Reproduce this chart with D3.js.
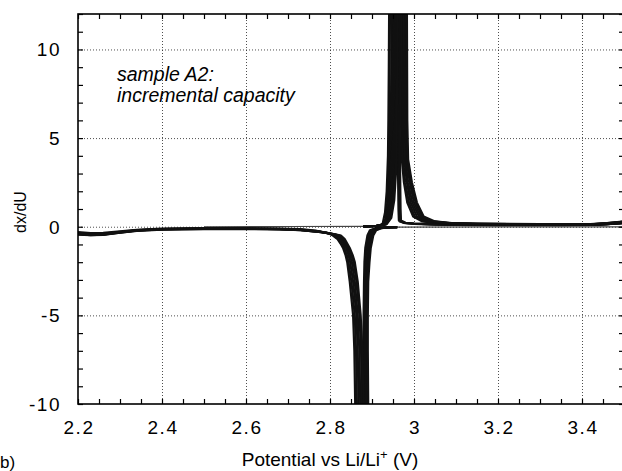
<!DOCTYPE html>
<html>
<head>
<meta charset="utf-8">
<script src="https://cdn.jsdelivr.net/npm/d3@7"></script>
<style>
    body { margin: 0; background: #fff; }
    svg { display: block; font-family: "Liberation Sans", Arial, sans-serif; }
</style>
</head>
<body>
<div id="icPlot"></div>
<script>
//Axis tick values
const xLabelTicks = [2.2, 2.4, 2.6, 2.8, 3.0, 3.2, 3.4];
const yLabelTicks = [-10, -5, 0, 5, 10];

//Flat parts near zero that only one cycle shows [potential (V), dx/dU]
const chargeBase = [[2.50,0.0],[2.70,0.01],[2.88,0.02]];
const dischargeBase = [[2.96,-0.02],[3.2,-0.01],[3.5,-0.01]];

//Discharge cycles [potential (V), dx/dU]
const discharge1 = [[2.20,-0.30],[2.23,-0.36],[2.26,-0.35],[2.30,-0.26],[2.34,-0.17],[2.40,-0.11],[2.50,-0.08],[2.60,-0.08],[2.68,-0.10],[2.73,-0.14],[2.765,-0.22],[2.795,-0.36],[2.807,-0.5],[2.818,-0.7],[2.825,-0.95],[2.831,-1.2],[2.837,-1.6],[2.841,-2],[2.847,-3.1],[2.855,-5],[2.858,-7],[2.860,-10],[2.862,-13],[2.870,-13],[2.876,-10],[2.879,-7],[2.880,-5],[2.881,-3.1],[2.882,-2],[2.884,-1.2],[2.889,-0.5],[2.895,-0.2],[2.91,-0.08],[2.93,-0.04],[2.96,-0.02]];
const discharge2 = [[2.20,-0.34],[2.23,-0.40],[2.26,-0.39],[2.30,-0.29],[2.34,-0.19],[2.40,-0.13],[2.50,-0.10],[2.60,-0.10],[2.68,-0.12],[2.73,-0.16],[2.77,-0.25],[2.80,-0.39],[2.811,-0.5],[2.821,-0.7],[2.828,-0.95],[2.834,-1.2],[2.840,-1.6],[2.844,-2],[2.851,-3.1],[2.859,-5],[2.862,-7],[2.864,-10],[2.866,-13],[2.874,-13],[2.879,-10],[2.881,-7],[2.882,-5],[2.883,-3.1],[2.885,-2],[2.887,-1.2],[2.892,-0.5],[2.898,-0.2],[2.912,-0.08],[2.93,-0.04],[2.96,-0.02]];
const discharge3 = [[2.20,-0.38],[2.23,-0.44],[2.26,-0.43],[2.30,-0.32],[2.34,-0.21],[2.40,-0.14],[2.50,-0.11],[2.60,-0.11],[2.68,-0.13],[2.73,-0.18],[2.775,-0.28],[2.805,-0.41],[2.815,-0.5],[2.825,-0.7],[2.832,-0.95],[2.838,-1.2],[2.844,-1.6],[2.848,-2],[2.855,-3.1],[2.863,-5],[2.866,-7],[2.868,-10],[2.870,-13],[2.878,-13],[2.882,-10],[2.883,-7],[2.884,-5],[2.885,-3.1],[2.887,-2],[2.890,-1.2],[2.895,-0.5],[2.901,-0.2],[2.915,-0.08],[2.935,-0.04],[2.96,-0.02]];
const discharge4 = [[2.20,-0.42],[2.23,-0.48],[2.26,-0.46],[2.30,-0.34],[2.34,-0.23],[2.40,-0.16],[2.50,-0.13],[2.60,-0.13],[2.68,-0.15],[2.73,-0.2],[2.78,-0.3],[2.81,-0.43],[2.819,-0.5],[2.829,-0.7],[2.835,-0.95],[2.841,-1.2],[2.847,-1.6],[2.852,-2],[2.859,-3.1],[2.866,-5],[2.870,-7],[2.872,-10],[2.874,-13],[2.882,-13],[2.885,-10],[2.885,-7],[2.886,-5],[2.887,-3.1],[2.890,-2],[2.893,-1.2],[2.898,-0.5],[2.904,-0.2],[2.918,-0.08],[2.935,-0.04],[2.96,-0.02]];
const discharge5 = [[2.20,-0.44],[2.23,-0.47],[2.26,-0.45],[2.30,-0.33],[2.34,-0.22],[2.40,-0.15],[2.50,-0.12],[2.60,-0.12],[2.68,-0.14],[2.73,-0.19],[2.785,-0.32],[2.815,-0.45],[2.823,-0.5],[2.832,-0.7],[2.838,-0.95],[2.844,-1.2],[2.851,-1.6],[2.856,-2],[2.863,-3.1],[2.870,-5],[2.874,-7],[2.876,-10],[2.878,-13],[2.886,-13],[2.888,-10],[2.887,-7],[2.888,-5],[2.889,-3.1],[2.892,-2],[2.895,-1.2],[2.901,-0.5],[2.907,-0.2],[2.92,-0.08],[2.94,-0.04],[2.96,-0.02]];
const discharge6 = [[2.20,-0.40],[2.23,-0.45],[2.26,-0.43],[2.30,-0.31],[2.34,-0.21],[2.40,-0.14],[2.50,-0.11],[2.60,-0.11],[2.68,-0.13],[2.73,-0.18],[2.79,-0.33],[2.818,-0.46],[2.826,-0.5],[2.835,-0.7],[2.841,-0.95],[2.847,-1.2],[2.854,-1.6],[2.859,-2],[2.866,-3.1],[2.873,-5],[2.877,-7],[2.880,-10],[2.882,-13],[2.890,-13],[2.891,-10],[2.890,-7],[2.890,-5],[2.891,-3.1],[2.894,-2],[2.897,-1.2],[2.903,-0.5],[2.910,-0.2],[2.922,-0.08],[2.94,-0.04],[2.96,-0.02]];

//Charge cycles [potential (V), dx/dU]
const charge1 = [[2.88,0.02],[2.91,0.04],[2.925,0.12],[2.931,0.8],[2.935,2],[2.938,4],[2.939,6],[2.940,9],[2.941,13],[2.959,13],[2.960,9],[2.961,6],[2.962,3],[2.963,1],[2.964,0.35],[2.975,0.22],[3.0,0.16],[3.05,0.12],[3.1,0.1],[3.2,0.09],[3.35,0.09],[3.42,0.1],[3.46,0.14],[3.5,0.2]];
const charge2 = [[2.88,0.02],[2.91,0.04],[2.927,0.12],[2.933,0.5],[2.937,1.5],[2.940,3],[2.941,6],[2.942,9],[2.943,13],[2.962,13],[2.963,9],[2.963,6],[2.964,3],[2.965,1],[2.966,0.3],[2.978,0.22],[3.0,0.17],[3.05,0.13],[3.1,0.11],[3.2,0.1],[3.35,0.1],[3.42,0.1],[3.46,0.15],[3.5,0.21]];
const charge3 = [[2.88,0.02],[2.91,0.04],[2.928,0.15],[2.935,0.5],[2.939,1.5],[2.943,3],[2.945,6],[2.946,9],[2.947,13],[2.965,13],[2.966,6],[2.967,3],[2.968,1],[2.969,0.35],[2.98,0.22],[3.0,0.17],[3.05,0.13],[3.1,0.11],[3.2,0.1],[3.35,0.1],[3.42,0.11],[3.46,0.15],[3.5,0.22]];
const charge4 = [[2.88,0.02],[2.91,0.04],[2.929,0.15],[2.936,0.5],[2.941,1.5],[2.945,3],[2.947,6],[2.948,9],[2.949,13],[2.968,13],[2.969,6],[2.971,3.8],[2.976,2.5],[2.984,1.36],[2.998,0.58],[3.02,0.3],[3.06,0.2],[3.12,0.14],[3.3,0.1],[3.42,0.1],[3.46,0.15],[3.5,0.22]];
const charge5 = [[2.88,0.02],[2.91,0.04],[2.930,0.15],[2.937,0.5],[2.943,1.5],[2.947,3],[2.949,6],[2.950,9],[2.951,13],[2.971,13],[2.972,6],[2.974,3.8],[2.979,2.5],[2.988,1.36],[3.002,0.58],[3.025,0.3],[3.065,0.2],[3.13,0.14],[3.3,0.11],[3.42,0.11],[3.46,0.16],[3.5,0.23]];
const charge6 = [[2.88,0.02],[2.91,0.04],[2.931,0.15],[2.938,0.5],[2.945,1.5],[2.949,3],[2.951,6],[2.952,9],[2.953,13],[2.974,13],[2.975,6],[2.977,3.8],[2.983,2.5],[2.992,1.36],[3.007,0.58],[3.03,0.3],[3.07,0.2],[3.14,0.15],[3.3,0.12],[3.42,0.12],[3.46,0.17],[3.5,0.25]];
const charge7 = [[2.88,0.02],[2.91,0.04],[2.932,0.15],[2.940,0.5],[2.947,1.5],[2.951,3],[2.953,6],[2.954,9],[2.955,13],[2.976,13],[2.977,6],[2.979,3.8],[2.986,2.5],[2.996,1.36],[3.012,0.58],[3.035,0.3],[3.075,0.2],[3.14,0.15],[3.3,0.13],[3.42,0.13],[3.46,0.18],[3.5,0.26]];
const charge8 = [[2.88,0.02],[2.91,0.04],[2.933,0.15],[2.942,0.5],[2.949,1.5],[2.953,3],[2.955,6],[2.956,9],[2.957,13],[2.979,13],[2.980,6],[2.982,3.8],[2.990,2.5],[3.000,1.36],[3.016,0.58],[3.04,0.3],[3.08,0.2],[3.15,0.16],[3.3,0.13],[3.42,0.13],[3.46,0.19],[3.5,0.28]];
const charge9 = [[2.88,0.02],[2.91,0.04],[2.934,0.15],[2.944,0.5],[2.951,1.5],[2.955,3],[2.957,6],[2.958,9],[2.959,13],[2.981,13],[2.982,6],[2.984,3.8],[2.993,2.5],[3.004,1.36],[3.020,0.58],[3.045,0.3],[3.085,0.2],[3.15,0.16],[3.3,0.14],[3.42,0.14],[3.46,0.2],[3.5,0.29]];
const charge10 = [[2.88,0.02],[2.91,0.04],[2.935,0.15],[2.946,0.5],[2.953,1.5],[2.957,3],[2.959,6],[2.960,9],[2.961,13],[2.983,13],[2.984,6],[2.986,3.8],[2.995,2.5],[3.007,1.36],[3.023,0.58],[3.05,0.3],[3.09,0.2],[3.16,0.17],[3.3,0.15],[3.42,0.15],[3.46,0.21],[3.5,0.3]];

class IncrementalCapacityPlot
{
    constructor()
    {
        //Selecting the div using d3
        this.plotDiv = d3.select("#icPlot");

        //Margins round the plot box
        this.dimensions = {top: 14, bottom: 67, right: -2, left: 78};

        this.fullWidth = 622;
        this.fullHeight = 471;
        this.width = this.fullWidth - this.dimensions.left - this.dimensions.right;
        this.height = this.fullHeight - this.dimensions.top - this.dimensions.bottom;

        this.svg = this.plotDiv.append("svg")
            .attr("width", this.fullWidth)
            .attr("height", this.fullHeight);
    }

    plot(cycles, baseLines)
    {
        let xScale = d3.scaleLinear()
            .domain([2.2, 3.5])
            .range([0, this.width]);

        let yScale = d3.scaleLinear()
            .domain([-10, 12])
            .range([this.height, 0]);

        let g = this.svg.append("g")
            .attr("transform", "translate(" + this.dimensions.left + "," + this.dimensions.top + ")");

        //Clip so the peaks stop at the frame
        g.append("clipPath").attr("id", "plotClip")
            .append("rect")
            .attr("width", this.width)
            .attr("height", this.height);

        //Dotted grid lines
        g.append("g")
            .call(d3.axisBottom(xScale).tickValues(xLabelTicks.slice(1)).tickSize(this.height).tickFormat(""))
            .call(a => a.select(".domain").remove())
            .selectAll("line")
            .attr("stroke", "#222")
            .attr("stroke-width", 0.8)
            .attr("stroke-dasharray", "1,2");

        g.append("g")
            .call(d3.axisLeft(yScale).tickValues(yLabelTicks.slice(1)).tickSize(-this.width).tickFormat(""))
            .call(a => a.select(".domain").remove())
            .selectAll("line")
            .attr("stroke", "#222")
            .attr("stroke-width", 0.8)
            .attr("stroke-dasharray", "1,2");

        //Cycle curves
        let line = d3.line()
            .x(d => xScale(d[0]))
            .y(d => yScale(d[1]));

        let curves = g.append("g").attr("clip-path", "url(#plotClip)");

        curves.selectAll("path.base")
            .data(baseLines)
            .enter().append("path")
            .attr("class", "base")
            .attr("d", line)
            .attr("fill", "none")
            .attr("stroke", "#444")
            .attr("stroke-width", 1.1);

        curves.selectAll("path.cycle")
            .data(cycles)
            .enter().append("path")
            .attr("class", "cycle")
            .attr("d", line)
            .attr("fill", "none")
            .attr("stroke", "#111")
            .attr("stroke-width", 2.2)
            .attr("stroke-linejoin", "round");

        //Inward minor ticks on all four sides
        let xMinor = d3.range(2.2, 3.5001, 0.05);
        let yMinor = d3.range(-10, 12.001, 1);

        g.append("g")
            .attr("transform", "translate(0," + this.height + ")")
            .call(d3.axisBottom(xScale).tickValues(xMinor).tickSize(-5).tickFormat(""))
            .call(a => a.select(".domain").remove());
        g.append("g")
            .call(d3.axisTop(xScale).tickValues(xMinor).tickSize(-5).tickFormat(""))
            .call(a => a.select(".domain").remove());
        g.append("g")
            .call(d3.axisLeft(yScale).tickValues(yMinor).tickSize(-5).tickFormat(""))
            .call(a => a.select(".domain").remove());
        g.append("g")
            .attr("transform", "translate(" + this.width + ",0)")
            .call(d3.axisRight(yScale).tickValues(yMinor).tickSize(-5).tickFormat(""))
            .call(a => a.select(".domain").remove());

        g.selectAll(".tick line").filter(function () { return !this.getAttribute("stroke-dasharray"); })
            .attr("stroke", "#000")
            .attr("stroke-width", 1.2);

        //Frame
        g.append("rect")
            .attr("width", this.width)
            .attr("height", this.height)
            .attr("fill", "none")
            .attr("stroke", "#000")
            .attr("stroke-width", 1.6);

        //Tick labels
        g.append("g")
            .selectAll("text")
            .data(xLabelTicks)
            .enter().append("text")
            .attr("x", d => xScale(d) + 1)
            .attr("y", this.height + 30)
            .attr("text-anchor", "middle")
            .attr("font-size", 19)
            .attr("letter-spacing", 1.5)
            .text(d => d3.format("")(d));

        g.append("g")
            .selectAll("text")
            .data(yLabelTicks)
            .enter().append("text")
            .attr("x", -17)
            .attr("y", d => yScale(d))
            .attr("dy", "0.36em")
            .attr("text-anchor", "end")
            .attr("font-size", 19)
            .attr("letter-spacing", 1.5)
            .text(d => d);

        //Axis titles
        let xTitle = this.svg.append("text")
            .attr("x", 330)
            .attr("y", 466)
            .attr("text-anchor", "middle")
            .attr("font-size", 19);
        xTitle.append("tspan").text("Potential vs Li/Li");
        xTitle.append("tspan").attr("font-size", 13).attr("dy", -7).text("+");
        xTitle.append("tspan").attr("dy", 7).text(" (V)");

        this.svg.append("text")
            .attr("transform", "translate(26,212) rotate(-90)")
            .attr("text-anchor", "middle")
            .attr("font-size", 16)
            .text("dx/dU");

        //Annotation
        let note = this.svg.append("text")
            .attr("font-size", 19.5)
            .attr("font-style", "italic");
        note.append("tspan").attr("x", 117).attr("y", 81).text("sample A2:");
        note.append("tspan").attr("x", 117).attr("y", 102).text("incremental capacity");

        //Panel letter at the bottom-left corner
        this.svg.append("text")
            .attr("x", 0)
            .attr("y", 468)
            .attr("font-size", 17)
            .text("b)");
    }
}

let icPlot = new IncrementalCapacityPlot();
icPlot.plot([discharge1, discharge2, discharge3, discharge4, discharge5, discharge6,
    charge1, charge2, charge3, charge4, charge5, charge6, charge7, charge8, charge9, charge10],
    [chargeBase, dischargeBase]);
</script>
</body>
</html>
